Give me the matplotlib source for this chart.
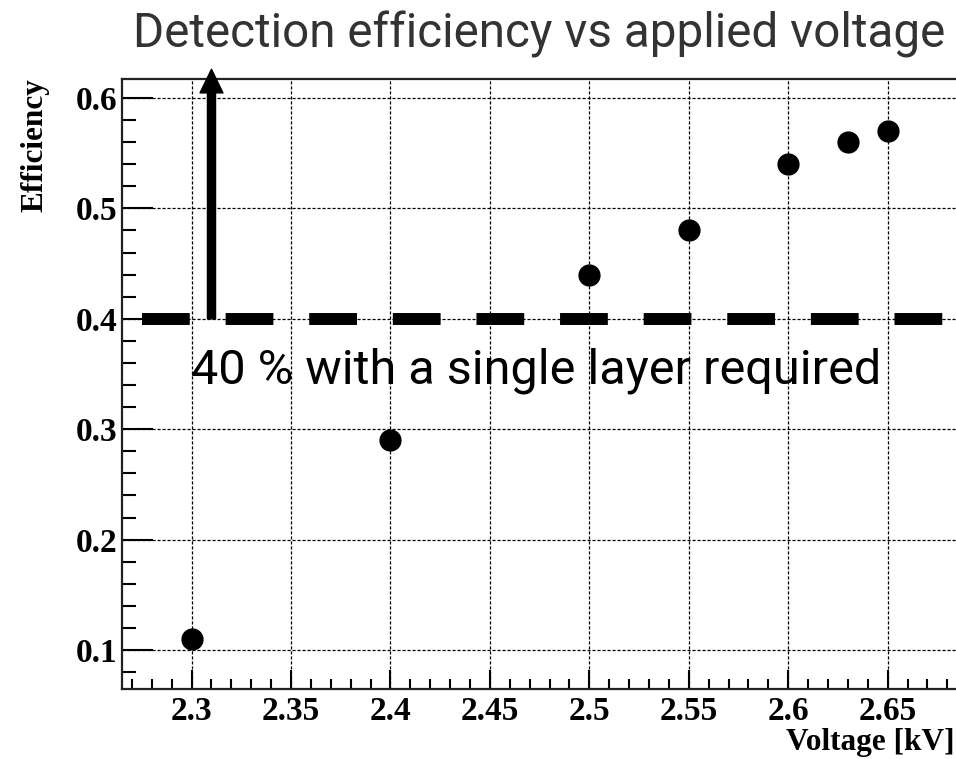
import matplotlib
matplotlib.use("Agg")
import matplotlib.pyplot as plt
from matplotlib.ticker import MultipleLocator

voltage = [2.30, 2.40, 2.50, 2.55, 2.60, 2.63, 2.65]
efficiency = [0.11, 0.29, 0.44, 0.48, 0.54, 0.56, 0.57]
threshold = 0.40
arrow_x = 2.31
title = "Detection efficiency vs applied voltage"
note = "40 % with a single layer required"
xtick_vals = [2.3, 2.35, 2.4, 2.45, 2.5, 2.55, 2.6, 2.65]
xtick_labels = ["2.3", "2.35", "2.4", "2.45", "2.5", "2.55", "2.6", "2.65"]
ytick_vals = [0.1, 0.2, 0.3, 0.4, 0.5, 0.6]
ytick_labels = ["0.1", "0.2", "0.3", "0.4", "0.5", "0.6"]

W, H = 956, 759
fig = plt.figure(figsize=(W / 100, H / 100), dpi=100)
left, right, top, bottom = 122, 957.3, 79, 689
ax = fig.add_axes([left / W, (H - bottom) / H, (right - left) / W, (bottom - top) / H])
ax.set_xlim(2.265, 2.685)
ax.set_ylim(0.0647, 0.6172)

serif = dict(family="Liberation Serif", weight="bold", size=22.5)

ax.xaxis.set_minor_locator(MultipleLocator(0.01))
ax.yaxis.set_minor_locator(MultipleLocator(0.02))
ax.set_xticks(xtick_vals)
ax.set_xticklabels(xtick_labels)
ax.set_yticks(ytick_vals)
ax.set_yticklabels(ytick_labels)
for lab in ax.get_xticklabels() + ax.get_yticklabels():
    lab.set_fontfamily("Liberation Serif")
    lab.set_fontweight("bold")
    lab.set_fontsize(24)

ax.tick_params(axis="both", which="both", direction="in", width=1.5, color="black")
ax.tick_params(axis="x", which="major", length=14, pad=5)
ax.tick_params(axis="x", which="minor", length=7)
ax.tick_params(axis="y", which="major", length=22, pad=3)
ax.tick_params(axis="y", which="minor", length=10)
ax.tick_params(top=False, right=False)
for s in ax.spines.values():
    s.set_linewidth(1.6)
    s.set_color("#222222")

ax.grid(True, which="major", color="black", linewidth=0.9, linestyle=(0, (2.5, 1.5)))
ax.set_axisbelow(True)

ax.plot([2.275, 2.685], [threshold, threshold], color="black", linewidth=8.6,
        linestyle=(0, (4, 3)), zorder=3, solid_capstyle="butt", dash_capstyle="butt")

ax.annotate("", xy=(arrow_x, 0.626), xytext=(arrow_x, threshold),
            arrowprops=dict(width=5.8, headwidth=16.5, headlength=17, color="black", shrink=0),
            annotation_clip=False, zorder=4)

ax.plot(voltage, efficiency, linestyle="none", marker="o", markersize=15,
        color="black", zorder=5)

ax.text(2.4731, 0.3418, note, ha="center", va="baseline", fontsize=35,
        family="Roboto", color="black", zorder=6)

fig.text(539 / W, 1 - 47 / H, title, ha="center", va="baseline", fontsize=34.3,
         family="Roboto", color="#333333")
fig.text(955 / W, 1 - 750 / H, "Voltage [kV]", ha="right", va="baseline", **serif)
fig.text(35 / W, 1 - 78 / H, "Efficiency", ha="center", va="top", rotation=90, **serif)

fig.savefig("out.png", dpi=100)
